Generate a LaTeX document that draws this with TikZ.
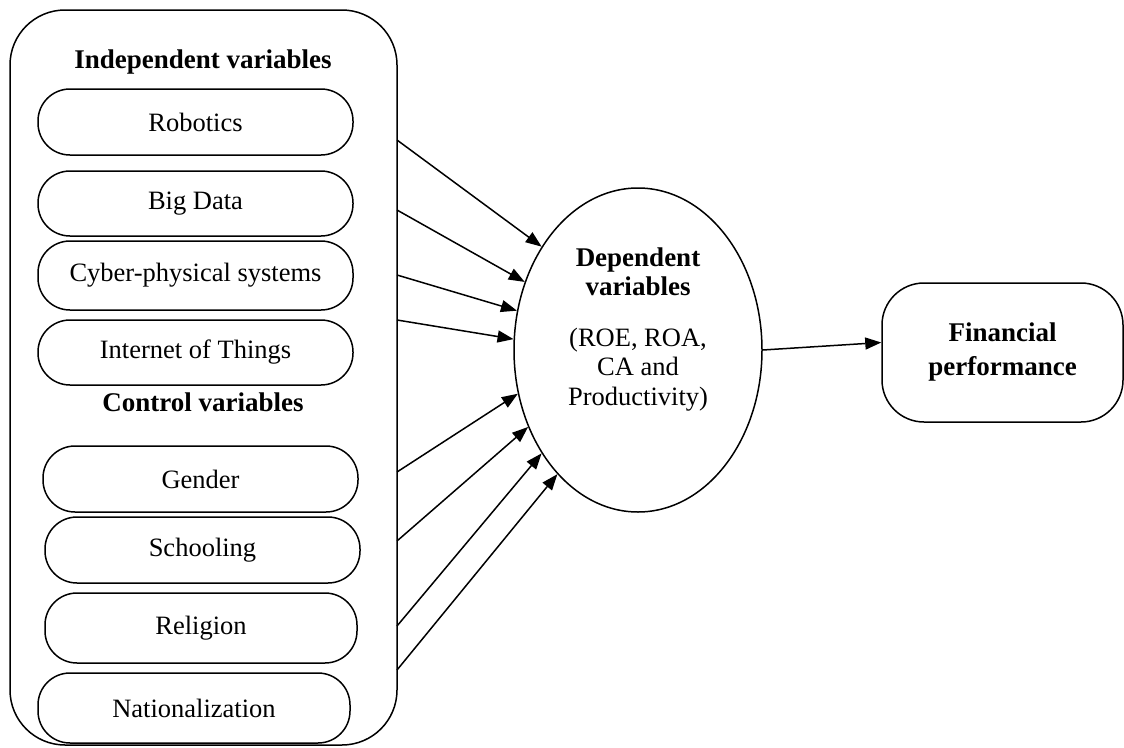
\documentclass[tikz,border=0pt]{standalone}
\usepackage{fontspec}
\setmainfont{Liberation Serif}
\usetikzlibrary{arrows.meta,shapes.geometric}
\begin{document}
\begin{tikzpicture}[x=1pt,y=-1pt,
  every node/.style={font=\fontsize{26.5}{29.5}\selectfont},
  pill/.style={draw,line width=1.5pt,rounded corners=32pt,inner sep=0pt},
  outerbox/.style={draw,line width=1.5pt,rounded corners=55pt,minimum width=387pt,minimum height=735pt,inner sep=0pt},
  head/.style={font=\fontsize{27}{29.5}\selectfont\bfseries},
  arr/.style={line width=1.5pt,-{Triangle[length=16pt,width=12pt]}}]
\useasboundingbox (0,0) rectangle (1124,747);
\node[outerbox] (box) at (203.5,377.5) {};
\node[head] (hind) at (203,62) {Independent variables};
\node[head] (hctl) at (203,402) {Control variables};
\node[pill,minimum width=315pt,minimum height=66pt] (rob) at (195.5,122) {Robotics};
\node[pill,minimum width=315pt,minimum height=65pt] (big) at (195.5,203.5) {Big Data};
\node[pill,minimum width=315pt,minimum height=69pt] (cps) at (195.5,275.5) {Cyber-physical systems};
\node[pill,minimum width=315pt,minimum height=65pt] (iot) at (195.5,352.5) {Internet of Things};
\node[pill,minimum width=315pt,minimum height=66pt] (gen) at (200.5,479) {Gender};
\node[pill,minimum width=315pt,minimum height=66pt] (sch) at (202.5,550) {Schooling};
\node[pill,minimum width=312pt,minimum height=70pt] (rel) at (201,628) {Religion};
\node[pill,minimum width=312pt,minimum height=70pt] (nat) at (194,708) {Nationalization};
\node[draw,ellipse,line width=1.5pt,minimum width=248pt,minimum height=324pt,inner sep=0pt] (dep) at (638,350) {};
\node[align=center] (deptext) at (638,329) {\fontsize{27}{29.5}\selectfont\textbf{Dependent}\\\fontsize{27}{29.5}\selectfont\textbf{variables}\\[21pt](ROE, ROA,\\CA and\\Productivity)};
\node[pill,rounded corners=42pt,minimum width=241pt,minimum height=139pt,align=center,font=\fontsize{27}{34}\selectfont\bfseries] (fin) at (1002.5,352.5) {Financial\\performance};
\coordinate (s1) at (397,140);
\coordinate (s2) at (397,210);
\coordinate (s3) at (397,275);
\coordinate (s4) at (397,320);
\coordinate (s5) at (397,472);
\coordinate (s6) at (397,541);
\coordinate (s7) at (397,626);
\coordinate (s8) at (397,670);
\draw[arr] (s1) -- (dep.133.9);
\draw[arr] (s2) -- (dep.149);
\draw[arr] (s3) -- (dep.162);
\draw[arr] (s4) -- (dep.175);
\draw[arr] (s5) -- (dep.200.6);
\draw[arr] (s6) -- (dep.215);
\draw[arr] (s7) -- (dep.227);
\draw[arr] (s8) -- (dep.237);
\draw[arr] (dep.east) -- ([yshift=10pt]fin.west);
\end{tikzpicture}
\end{document}
